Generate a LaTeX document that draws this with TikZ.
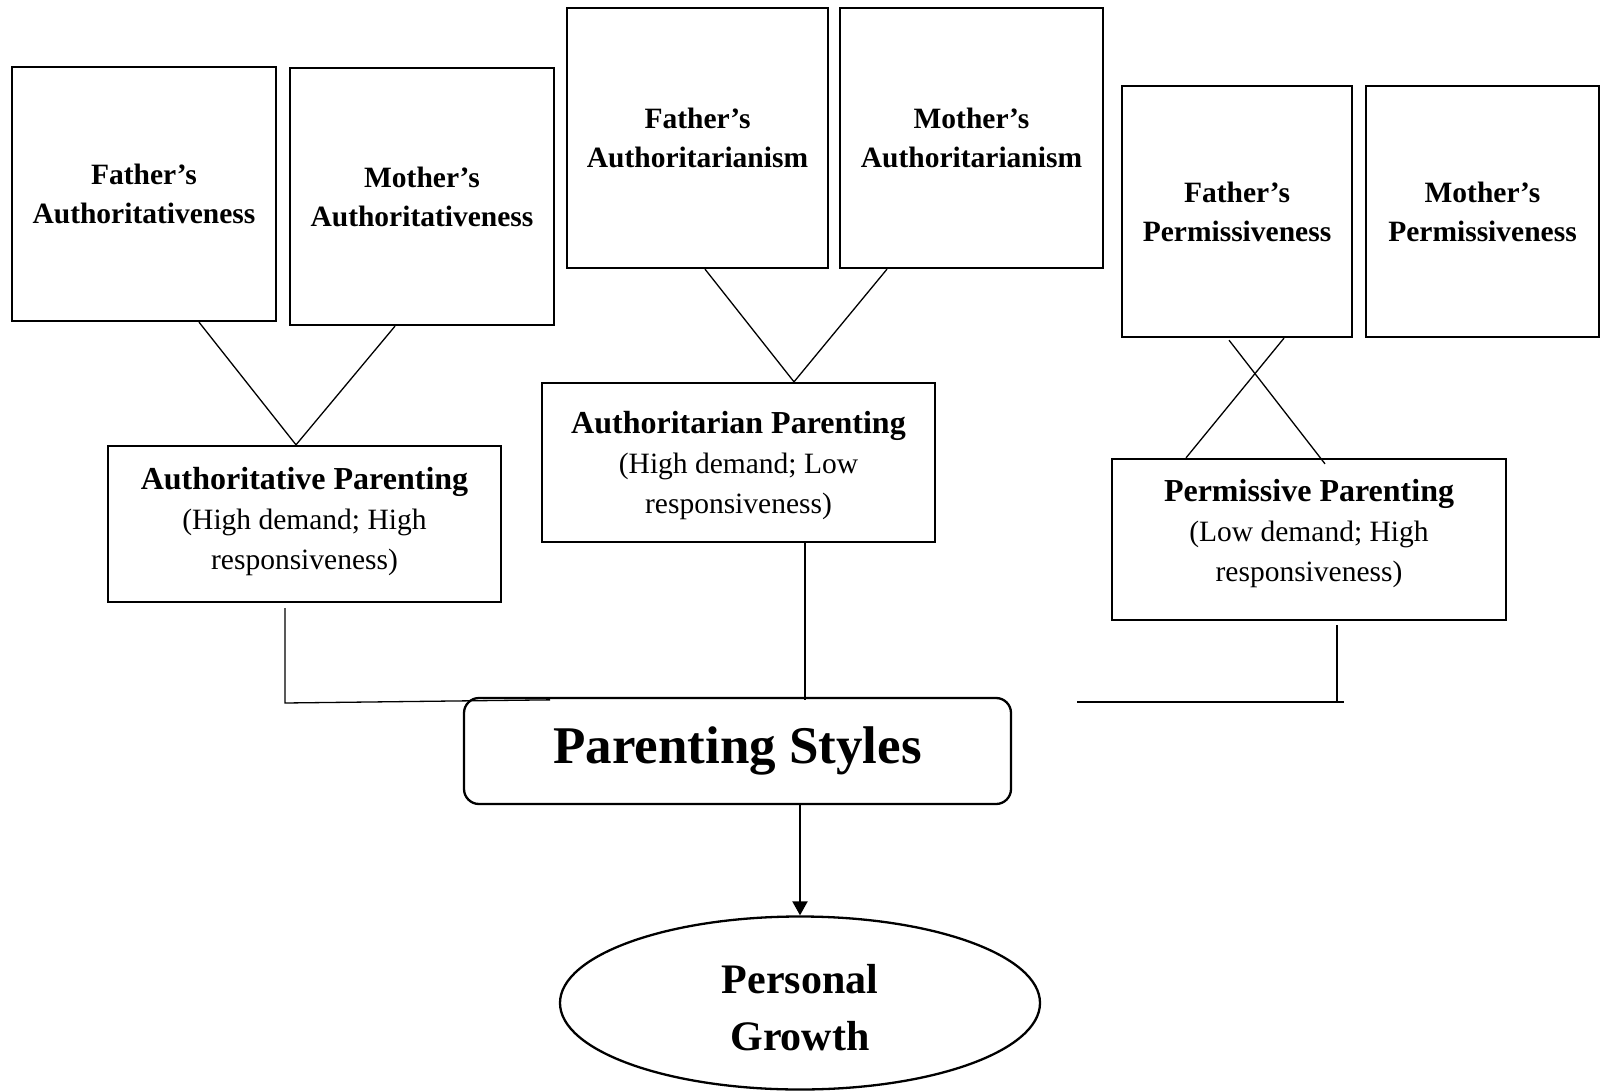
\documentclass[tikz,border=0pt]{standalone}
\usepackage{fontspec}
\setmainfont{Liberation Serif}
\usetikzlibrary{arrows.meta,shapes.geometric}
\newcommand{\ttl}[1]{{\fontsize{32}{41}\selectfont\bfseries #1}}
\tikzset{
  topbox/.style={draw, line width=2.3pt, rectangle, inner sep=0pt, align=center,
    font=\fontsize{29.5}{39}\selectfont\bfseries},
  stylebox/.style={draw, line width=2.3pt, rectangle, inner sep=0pt},
  styletext/.style={align=center, inner sep=0pt, font=\fontsize{29.5}{40}\selectfont},
  conn/.style={line width=1.3pt},
}
\begin{document}
\begin{tikzpicture}[x=1pt,y=-1pt]
\useasboundingbox (0,0) rectangle (1601,1091);
% top boxes
\node[topbox, minimum width=264pt, minimum height=254pt] (FA) at (144,194) {Father’s\\Authoritativeness};
\node[topbox, minimum width=264pt, minimum height=257pt] (MA) at (422,196.5) {Mother’s\\Authoritativeness};
\node[topbox, minimum width=261pt, minimum height=260pt] (FAn) at (697.5,138) {Father’s\\Authoritarianism};
\node[topbox, minimum width=263pt, minimum height=260pt] (MAn) at (971.5,138) {Mother’s\\Authoritarianism};
\node[topbox, minimum width=230pt, minimum height=251pt] (FP) at (1237,211.5) {Father’s\\Permissiveness};
\node[topbox, minimum width=233pt, minimum height=251pt] (MP) at (1482.5,211.5) {Mother’s\\Permissiveness};
% style boxes
\node[stylebox, minimum width=393pt, minimum height=156pt,
  label={[styletext, yshift=2.6pt]center:{\ttl{Authoritative Parenting}\\(High demand; High\\responsiveness)}}] (AP) at (304.5,524) {};
\node[stylebox, minimum width=393pt, minimum height=159pt,
  label={[styletext, yshift=-3pt]center:{\ttl{Authoritarian Parenting}\\(High demand; Low\\responsiveness)}}] (ATN) at (738.5,462.5) {};
\node[stylebox, minimum width=394pt, minimum height=161pt,
  label={[styletext, yshift=5.6pt]center:{\ttl{Permissive Parenting}\\(Low demand; High\\responsiveness)}}] (PP) at (1309,539.5) {};
% parenting styles
\node[draw, line width=2.3pt, rounded corners=15pt, minimum width=547pt, minimum height=106pt, inner sep=0pt,
  font=\fontsize{53}{60}\selectfont\bfseries] (PS) at (737.5,751) {\raisebox{-3pt}{Parenting Styles}};
\node[draw, line width=2.3pt, ellipse, minimum width=480pt, minimum height=173pt, inner sep=0pt,
  label={[align=center, inner sep=0pt, yshift=-5pt, font=\fontsize{42}{57}\selectfont\bfseries]center:{Personal\\Growth}}] (PG) at (800,1003) {};
% connectors top
\draw[conn] ([xshift=55pt]FA.south) -- ([xshift=-8.5pt]AP.north);
\draw[conn] ([xshift=-27pt]MA.south) -- ([xshift=-8.5pt]AP.north);
\draw[conn] ([xshift=7.5pt]FAn.south) -- ([xshift=55.5pt]ATN.north);
\draw[conn] ([xshift=-84.5pt]MAn.south) -- ([xshift=55.5pt]ATN.north);
\draw[conn] ([xshift=-8pt,yshift=-2pt]FP.south) -- ([xshift=16pt,yshift=-6pt]PP.north);
\draw[conn] ([xshift=47pt]FP.south) -- ([xshift=-123pt]PP.north);
% bracket connectors
\coordinate (lc) at (285,703);
\draw[conn] ([xshift=-19.5pt,yshift=-5pt]AP.south) -- (lc) -- ([xshift=-187.5pt,yshift=-3pt]PS.north);
\draw[conn] ([xshift=66.5pt]ATN.south) -- ([xshift=67.5pt,yshift=-3pt]PS.north);
\coordinate (rl) at (1077,702);
\coordinate (rr) at (1344,702);
\draw[conn] ([xshift=28pt,yshift=-4pt]PP.south) -- (1337,703);
\draw[conn] (rl) -- (rr);
% arrow
\draw[line width=2pt, -{Triangle[length=14pt,width=15pt]}] ([xshift=62.5pt]PS.south) -- (PG.north);
\end{tikzpicture}
\end{document}
